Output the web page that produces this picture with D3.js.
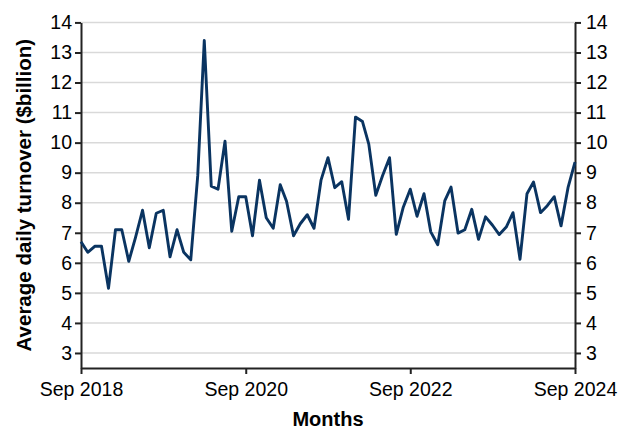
<!DOCTYPE html>
<html><head><meta charset="utf-8">
<script src="https://cdn.jsdelivr.net/npm/d3@7"></script>
<style>body{margin:0;background:#fff}svg{display:block;font-family:"Liberation Sans",Arial,sans-serif}</style>
</head><body><svg id="c" width="635" height="444"></svg>
<script>
const startMonth = "2018-09";
const values = [6.7,6.35,6.55,6.55,5.15,7.1,7.1,6.05,6.85,7.75,6.5,7.65,7.75,6.2,7.1,6.35,6.1,8.9,13.4,8.55,8.45,10.05,7.05,8.2,8.2,6.9,8.75,7.5,7.15,8.6,8.05,6.9,7.3,7.6,7.15,8.75,9.5,8.5,8.7,7.45,10.85,10.7,9.95,8.25,8.9,9.5,6.95,7.85,8.45,7.55,8.3,7.03,6.6,8.06,8.52,6.99,7.1,7.78,6.78,7.53,7.25,6.94,7.19,7.67,6.12,8.3,8.69,7.67,7.9,8.2,7.23,8.5,9.35];
const yTicks = [3,4,5,6,7,8,9,10,11,12,13,14];
const xTickLabels = ["Sep 2018","Sep 2020","Sep 2022","Sep 2024"];
const xTickDates = ["2018-09","2020-09","2022-09","2024-09"];
const yTitle = "Average daily turnover ($billion)";
const xTitle = "Months";

const parse = d3.timeParse("%Y-%m");
const t0 = parse(startMonth);
const data = values.map((v,i)=>({date:d3.timeMonth.offset(t0,i), v}));

const svg = d3.select("#c");
const L=81, R=575, B=368;
const x = d3.scaleTime().domain([data[0].date, data[data.length-1].date]).range([L,R]);
const y = d3.scaleLinear().domain([2.5,14]).range([B, B - (14-2.5)*30.05]);
const T = y(14);

svg.append("g").selectAll("line").data(yTicks).join("line")
  .attr("x1",L).attr("x2",R).attr("y1",d=>y(d)).attr("y2",d=>y(d))
  .attr("stroke","#d9d9d9").attr("stroke-width",1.5);

const fs = 19.5;
const leftAxis = svg.append("g").attr("transform",`translate(${L},0)`)
  .call(d3.axisLeft(y).tickValues(yTicks).tickSize(6).tickPadding(3).tickSizeOuter(0));
const rightAxis = svg.append("g").attr("transform",`translate(${R},0)`)
  .call(d3.axisRight(y).tickValues(yTicks).tickSize(6).tickPadding(5).tickSizeOuter(0));
const bottomAxis = svg.append("g").attr("transform",`translate(0,${B})`)
  .call(d3.axisBottom(x).tickValues(xTickDates.map(parse)).tickFormat((d,i)=>xTickLabels[i]).tickSize(6).tickPadding(8).tickSizeOuter(0));
[leftAxis,rightAxis,bottomAxis].forEach(g=>{
  g.selectAll("path.domain").attr("stroke","#222").attr("stroke-width",2);
  g.selectAll(".tick line").attr("stroke","#222").attr("stroke-width",2);
  g.selectAll("text").attr("font-size",fs).attr("fill","#000").attr("font-family","Liberation Sans, Arial, sans-serif");
});

svg.append("path").datum(data)
  .attr("fill","none").attr("stroke","#0a3461").attr("stroke-width",2.9).attr("stroke-linejoin","round")
  .attr("d", d3.line().x(d=>x(d.date)).y(d=>y(d.v)));

svg.append("text").attr("x",(L+R)/2).attr("y",426).attr("text-anchor","middle")
  .attr("font-size",20).attr("font-weight","bold").text(xTitle);
svg.append("text").attr("transform",`translate(31,${(T+B)/2}) rotate(-90)`).attr("text-anchor","middle")
  .attr("font-size",20.5).attr("font-weight","bold").text(yTitle);
</script></body></html>
